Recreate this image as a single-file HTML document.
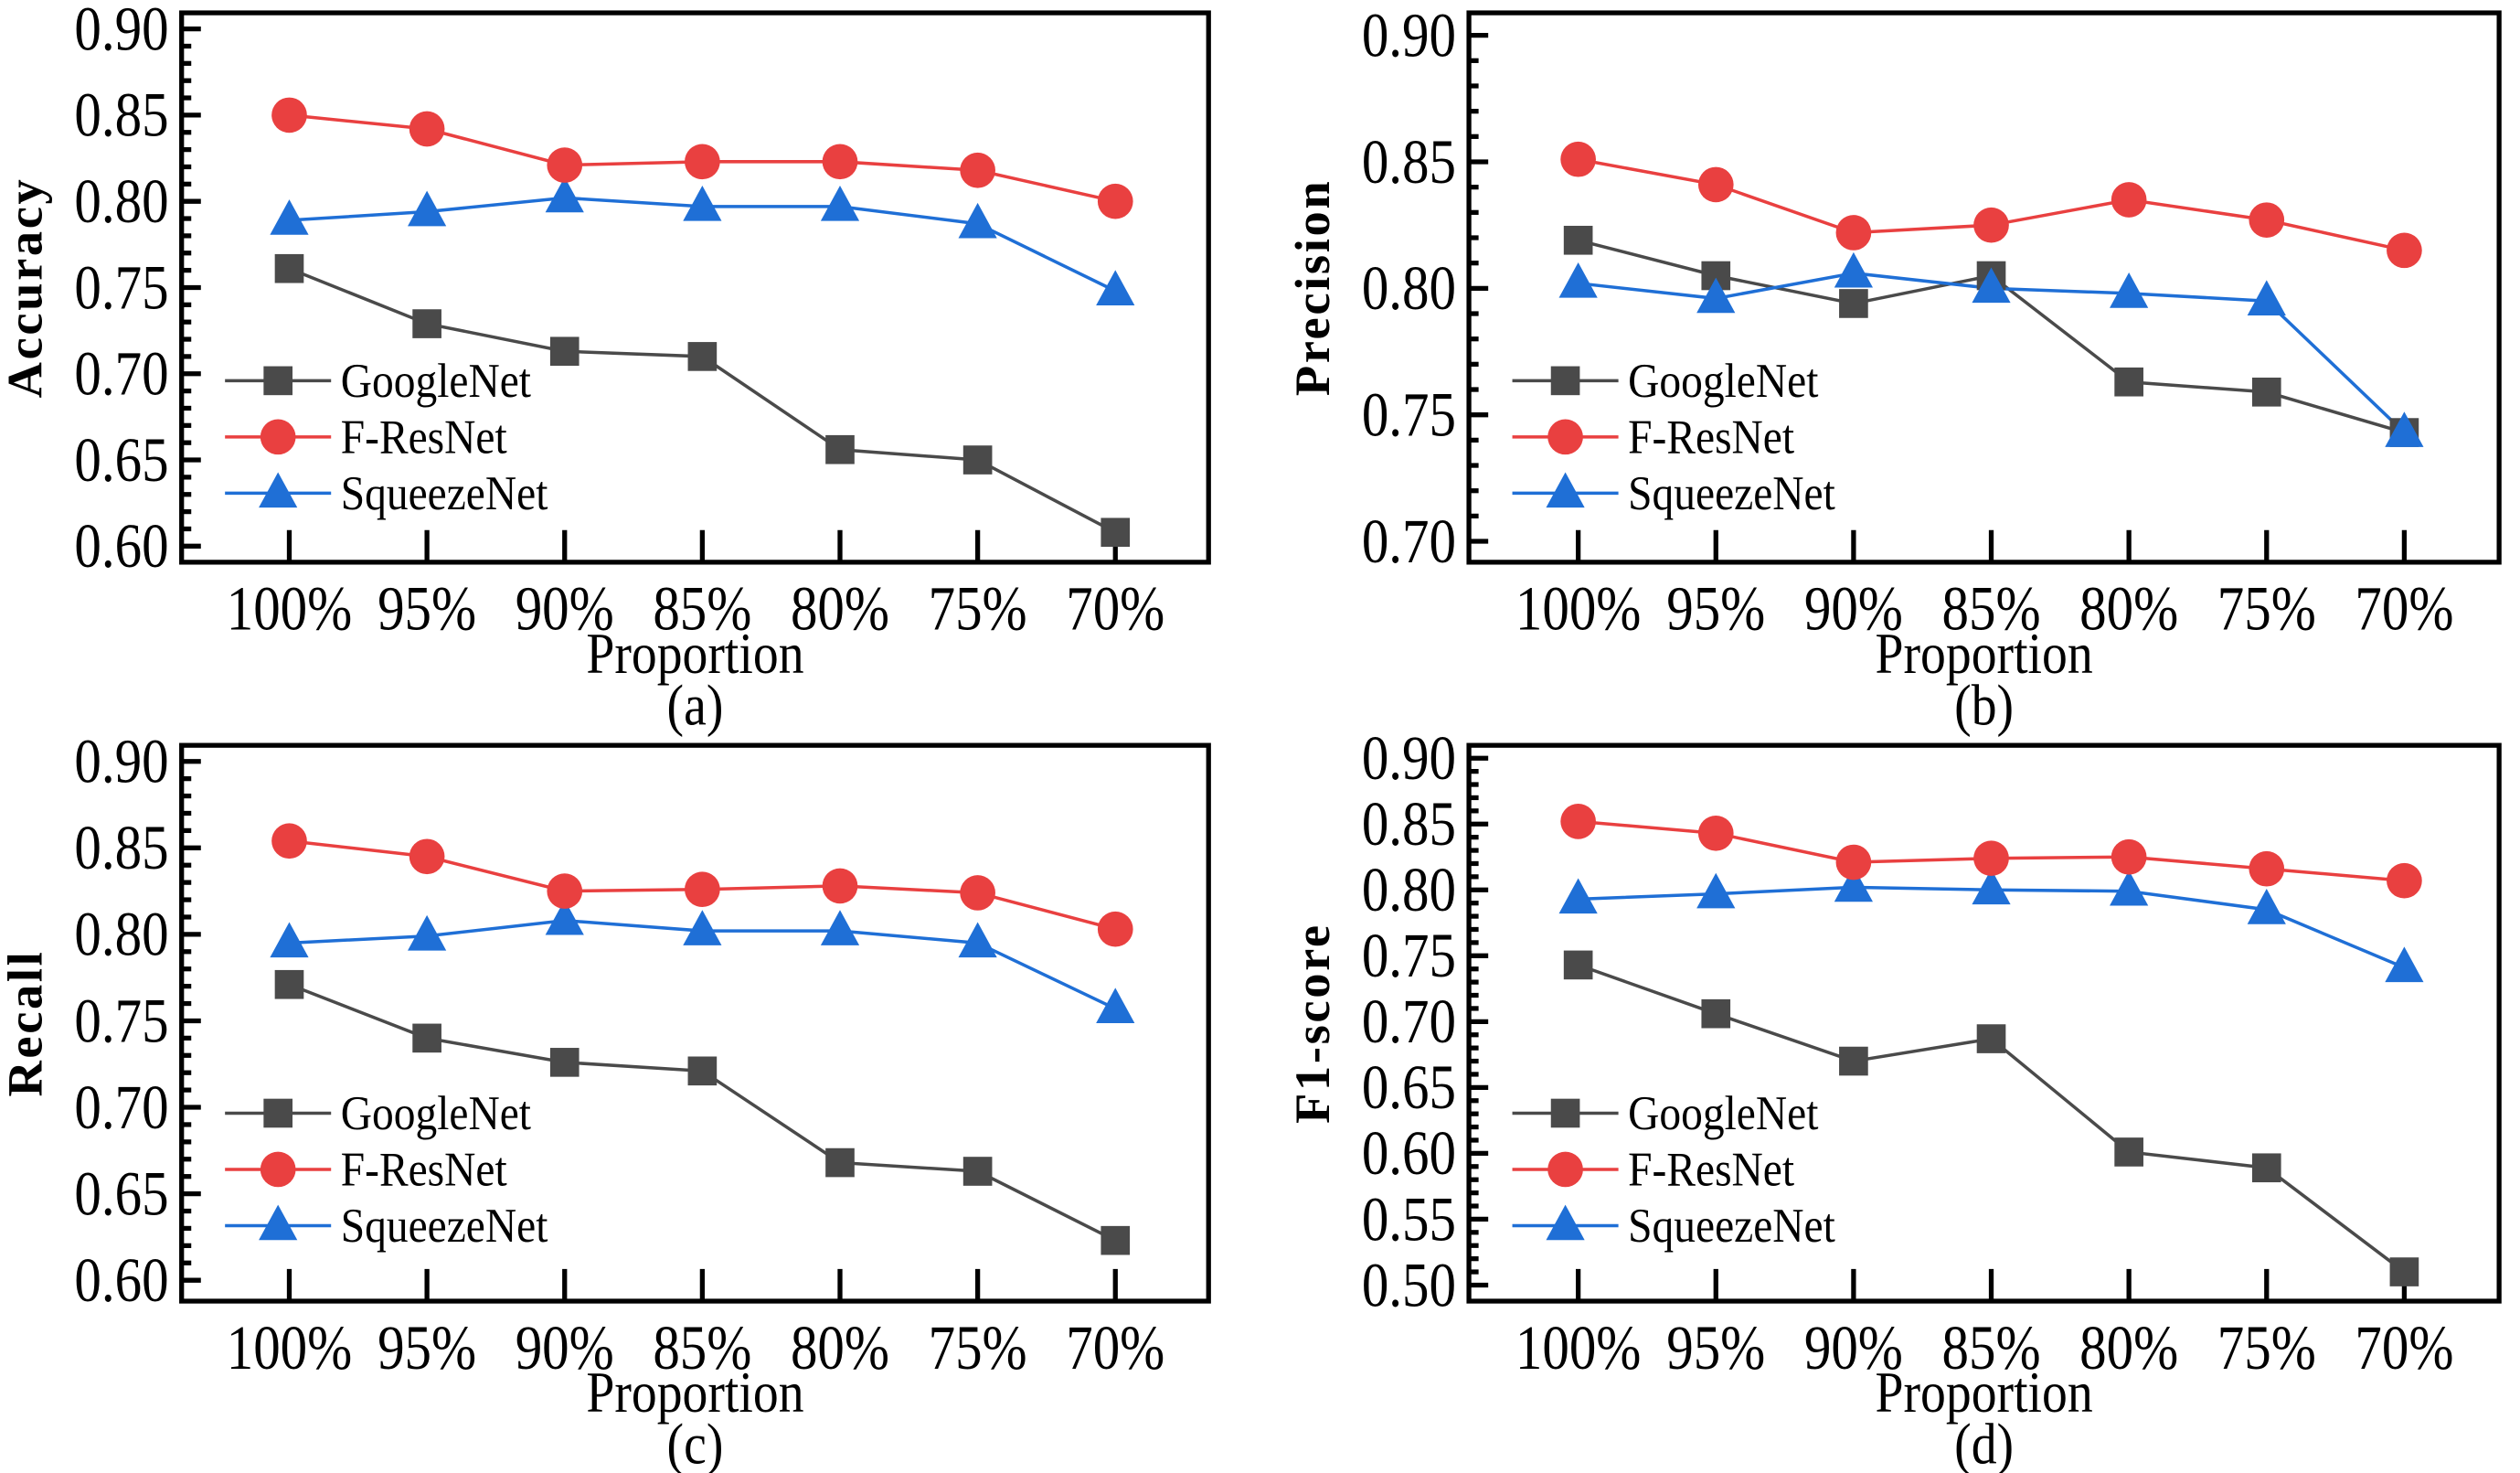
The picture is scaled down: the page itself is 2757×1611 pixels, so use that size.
<!DOCTYPE html>
<html><head><meta charset="utf-8"><style>html,body{margin:0;padding:0;background:#fff}svg{display:block}svg text{font-family:"Liberation Serif","Times New Roman",serif}</style></head>
<body>
<svg id="s" width="2757" height="1611" viewBox="0 0 1568 917" preserveAspectRatio="none" xmlns="http://www.w3.org/2000/svg"></svg>
<script>
const NS="http://www.w3.org/2000/svg";const s=document.getElementById('s');
function el(t,a,txt){const e=document.createElementNS(NS,t);for(const k in a)e.setAttribute(k,a[k]);if(txt!==undefined)e.textContent=txt;s.appendChild(e);return e;}
function tx(x,y,size,anchor,str,sx,rot){
 const tr=`translate(${x},${y})`+(rot?` rotate(${rot})`:'')+` scale(${sx},1)`;
 return el('text',{x:0,y:0,'font-size':size,'text-anchor':anchor,transform:tr,style:'font-family:"Liberation Serif","Times New Roman",serif'},str);
}
const xl=["100%","95%","90%","85%","80%","75%","70%"];
const panels=[
 {L:113,R:752,T:8,B:350,x0:180,x1:694,ytop:18,ybot:340,vmax:.90,vmin:.60,title:"Accuracy",lab:"(a)",
  G:[.761,.729,.713,.710,.656,.650,.608],F:[.850,.842,.821,.823,.823,.818,.800],S:[.789,.794,.802,.797,.797,.787,.748]},
 {L:914,R:1555,T:8,B:350,x0:982,x1:1496,ytop:22,ybot:337,vmax:.90,vmin:.70,title:"Precision",lab:"(b)",
  G:[.819,.805,.794,.805,.763,.759,.743],F:[.851,.841,.822,.825,.835,.827,.815],S:[.802,.796,.806,.800,.798,.795,.743]},
 {L:113,R:752,T:464,B:810,x0:180,x1:694,ytop:474,ybot:797,vmax:.90,vmin:.60,title:"Recall",lab:"(c)",
  G:[.771,.740,.726,.721,.668,.663,.623],F:[.854,.845,.825,.826,.828,.824,.803],S:[.795,.799,.808,.802,.802,.795,.757]},
 {L:914,R:1555,T:464,B:810,x0:982,x1:1496,ytop:472,ybot:800,vmax:.90,vmin:.50,title:"F1-score",lab:"(d)",
  G:[.743,.706,.670,.687,.601,.589,.510],F:[.852,.843,.821,.824,.825,.816,.807],S:[.793,.797,.802,.800,.799,.785,.741]}
];
const col={G:"#4a4a4a",F:"#e94040",S:"#1f6fd6"};
function mk(k,x,y){
 if(k=='G')el('rect',{x:x-9,y:y-9,width:18,height:18,fill:col.G});
 else if(k=='F')el('circle',{cx:x,cy:y,r:11,fill:col.F});
 else el('polygon',{points:`${x},${y-13} ${x-12},${y+9} ${x+12},${y+9}`,fill:col.S});
}
panels.forEach(p=>{
 const Y=v=>p.ybot-(v-p.vmin)/(p.vmax-p.vmin)*(p.ybot-p.ytop);
 const X=i=>p.x0+i*(p.x1-p.x0)/6;
 const n=Math.round((p.vmax-p.vmin)/0.01);
 for(let i=0;i<=n;i++){const v=p.vmin+i*0.01;const y=Y(v);const maj=i%5==0;
  el('line',{x1:p.L,x2:p.L+(maj?12:6),y1:y,y2:y,stroke:'#000','stroke-width':3});
  if(maj)tx(p.L-8,y+13,39,'end',v.toFixed(2),0.86);}
 for(let i=0;i<7;i++){el('line',{x1:X(i),x2:X(i),y1:p.B,y2:p.B-20,stroke:'#000','stroke-width':3});
  tx(X(i),p.B+42,39,'middle',xl[i],0.86);}
 el('rect',{x:p.L,y:p.T,width:p.R-p.L,height:p.B-p.T,fill:'none',stroke:'#000','stroke-width':3});
 ['G','S','F'].forEach(k=>{
  el('polyline',{points:p[k].map((v,i)=>X(i)+','+Y(v)).join(' '),fill:'none',stroke:col[k],'stroke-width':2});
 });
 ['G','S','F'].forEach(k=>p[k].forEach((v,i)=>mk(k,X(i),Y(v))));
 const ly=p.T+229, names={G:'GoogleNet',F:'F-ResNet',S:'SqueezeNet'};
 ['G','F','S'].forEach((k,j)=>{const y=ly+j*35;const lx=p.L+27;
  el('line',{x1:lx,x2:lx+66,y1:y,y2:y,stroke:col[k],'stroke-width':2});mk(k,lx+33,y);
  tx(lx+72,y+10,30,'start',names[k],0.9);});
 const cx=(p.L+p.R)/2;
 tx(cx,p.B+69,36,'middle','Proportion',0.88);
 tx(cx,p.B+101,36,'middle',p.lab,0.88);
 const ty=(p.T+p.B)/2;
 const t=tx(p.L-87,ty,31,'middle',p.title,1,-90);t.setAttribute('letter-spacing','1.5');t.setAttribute('font-weight','bold');
});
</script>
</body></html>
